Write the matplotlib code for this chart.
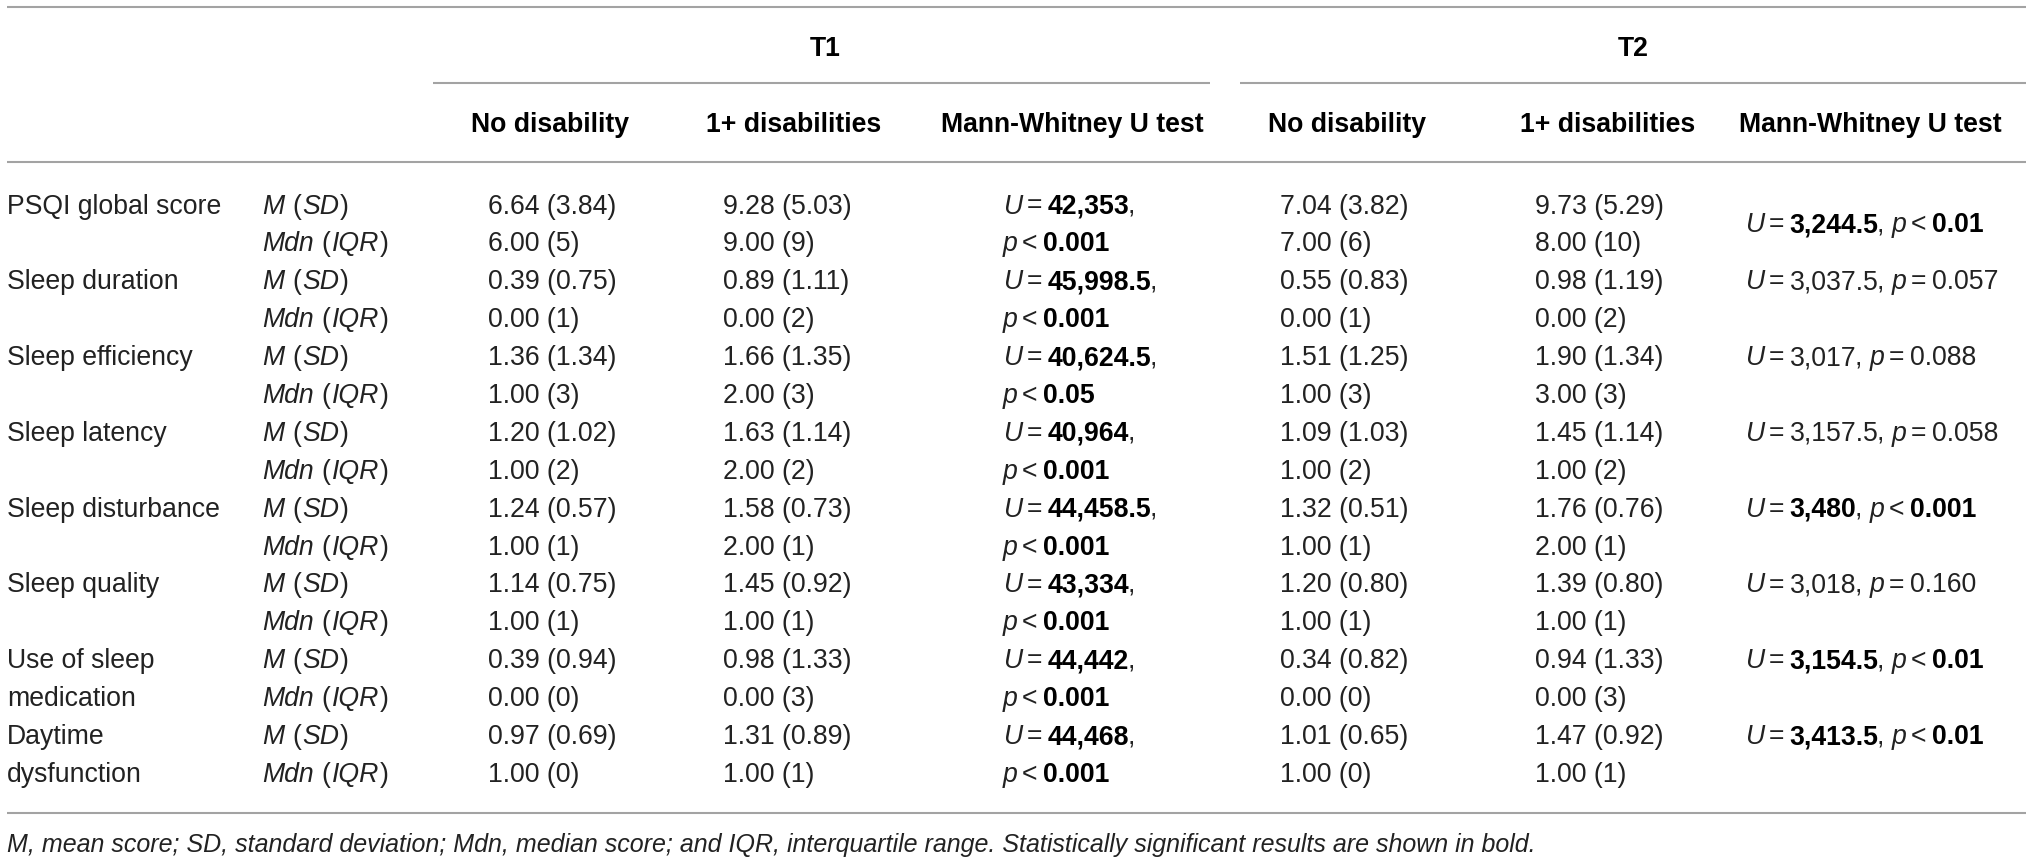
import matplotlib
matplotlib.use("Agg")
import matplotlib.pyplot as plt

# ---------------- data ----------------
variables = ["PSQI global score", "Sleep duration", "Sleep efficiency", "Sleep latency",
             "Sleep disturbance", "Sleep quality", "Use of sleep\nmedication", "Daytime\ndysfunction"]
stat_labels = [("M", "SD"), ("Mdn", "IQR")]

t1_nodis_m = ["6.64 (3.84)", "0.39 (0.75)", "1.36 (1.34)", "1.20 (1.02)", "1.24 (0.57)", "1.14 (0.75)", "0.39 (0.94)", "0.97 (0.69)"]
t1_nodis_mdn = ["6.00 (5)", "0.00 (1)", "1.00 (3)", "1.00 (2)", "1.00 (1)", "1.00 (1)", "0.00 (0)", "1.00 (0)"]
t1_dis_m = ["9.28 (5.03)", "0.89 (1.11)", "1.66 (1.35)", "1.63 (1.14)", "1.58 (0.73)", "1.45 (0.92)", "0.98 (1.33)", "1.31 (0.89)"]
t1_dis_mdn = ["9.00 (9)", "0.00 (2)", "2.00 (3)", "2.00 (2)", "2.00 (1)", "1.00 (1)", "0.00 (3)", "1.00 (1)"]
t1_u = ["42,353", "45,998.5", "40,624.5", "40,964", "44,458.5", "43,334", "44,442", "44,468"]
t1_p_op = ["<", "<", "<", "<", "<", "<", "<", "<"]
t1_p = ["0.001", "0.001", "0.05", "0.001", "0.001", "0.001", "0.001", "0.001"]
t1_sig = [True] * 8

t2_nodis_m = ["7.04 (3.82)", "0.55 (0.83)", "1.51 (1.25)", "1.09 (1.03)", "1.32 (0.51)", "1.20 (0.80)", "0.34 (0.82)", "1.01 (0.65)"]
t2_nodis_mdn = ["7.00 (6)", "0.00 (1)", "1.00 (3)", "1.00 (2)", "1.00 (1)", "1.00 (1)", "0.00 (0)", "1.00 (0)"]
t2_dis_m = ["9.73 (5.29)", "0.98 (1.19)", "1.90 (1.34)", "1.45 (1.14)", "1.76 (0.76)", "1.39 (0.80)", "0.94 (1.33)", "1.47 (0.92)"]
t2_dis_mdn = ["8.00 (10)", "0.00 (2)", "3.00 (3)", "1.00 (2)", "2.00 (1)", "1.00 (1)", "0.00 (3)", "1.00 (1)"]
t2_u = ["3,244.5", "3,037.5", "3,017", "3,157.5", "3,480", "3,018", "3,154.5", "3,413.5"]
t2_p_op = ["<", "=", "=", "=", "<", "=", "<", "<"]
t2_p = ["0.01", "0.057", "0.088", "0.058", "0.001", "0.160", "0.01", "0.01"]
t2_sig = [True, False, False, False, True, False, True, True]

groups = ["T1", "T2"]
col_headers = ["No disability", "1+ disabilities", "Mann-Whitney U test"]
footnote = [("M", "i"), (", mean score; ", "i"), ("SD", "i"), (", standard deviation; ", "i"),
            ("Mdn", "i"), (", median score; and ", "i"), ("IQR", "i"),
            (", interquartile range. Statistically significant results are shown in bold.", "i")]

# ---------------- layout ----------------
W, H, DPI = 2032, 864, 100
FS = 19.2
FS_NOTE = 18.0
TXT = "#222222"
LINE = "#a3a3a3"
LW = 1.5

plt.rcParams["font.family"] = ["Liberation Sans", "DejaVu Sans"]

fig = plt.figure(figsize=(W / DPI, H / DPI), dpi=DPI)
ax = fig.add_axes([0, 0, 1, 1])
ax.set_xlim(0, W)
ax.set_ylim(H, 0)
ax.axis("off")
renderer = fig.canvas.get_renderer()

CAP = 9.5           # half cap height in px
row0, pitch = 204, 37.9
def row_base(i):
    return row0 + pitch * i + CAP

def put(x, y, s, style="r", fs=FS, ha="left"):
    kw = dict(fontsize=fs, color=TXT, va="baseline", ha=ha)
    if style == "i":
        kw["fontstyle"] = "italic"
    elif style == "b":
        kw["fontweight"] = "bold"
        kw["color"] = "#000000"
    return ax.text(x, y, s, **kw)

def runs(x, y, parts, fs=FS):
    for s, style, gap in parts:
        t = put(x, y, s, style, fs)
        bb = t.get_window_extent(renderer)
        x += bb.width + gap
    return x

# rules
ax.plot([7, 2026], [7, 7], color=LINE, lw=LW, solid_capstyle="butt")
ax.plot([433, 1210], [83, 83], color=LINE, lw=LW, solid_capstyle="butt")
ax.plot([1240, 2026], [83, 83], color=LINE, lw=LW, solid_capstyle="butt")
ax.plot([7, 2026], [162, 162], color=LINE, lw=LW, solid_capstyle="butt")
ax.plot([7, 2026], [813, 813], color=LINE, lw=LW, solid_capstyle="butt")

# group headers
for g, cx in zip(groups, [825, 1633]):
    put(cx, 47 + CAP, g, "b", ha="center")
hdr_x = [550, 794, 1072, 1347, 1608, 1870]
for k, cx in enumerate(hdr_x):
    put(cx, 123 + CAP, col_headers[k % 3], "b", ha="center")

# body
X_LABEL, X_STAT = 7, 262
X_COLS = [488, 723, 1003, 1280, 1535, 1745]
for v, name in enumerate(variables):
    r_m, r_md = 2 * v, 2 * v + 1
    lines = name.split("\n")
    for j, ln in enumerate(lines):
        put(X_LABEL, row_base(r_m + j), ln)
    # stat labels
    for j, (a, b) in enumerate(stat_labels):
        runs(X_STAT, row_base(r_m + j), [(a, "i", 8), ("(", "r", 1), (b, "i", 1), (")", "r", 0)])
    put(X_COLS[0], row_base(r_m), t1_nodis_m[v])
    put(X_COLS[0], row_base(r_md), t1_nodis_mdn[v])
    put(X_COLS[1], row_base(r_m), t1_dis_m[v])
    put(X_COLS[1], row_base(r_md), t1_dis_mdn[v])
    put(X_COLS[3], row_base(r_m), t2_nodis_m[v])
    put(X_COLS[3], row_base(r_md), t2_nodis_mdn[v])
    put(X_COLS[4], row_base(r_m), t2_dis_m[v])
    put(X_COLS[4], row_base(r_md), t2_dis_mdn[v])
    # T1 Mann-Whitney: two lines
    st = "b" if t1_sig[v] else "r"
    runs(X_COLS[2], row_base(r_m), [("U", "i", 4), ("=", "r", 6), (t1_u[v], st, -2), (",", "r", 0)])
    runs(X_COLS[2], row_base(r_md), [("p", "i", 4), (t1_p_op[v], "r", 6), (t1_p[v], st, 0)])
    # T2 Mann-Whitney: one line
    st = "b" if t2_sig[v] else "r"
    y2 = row_base(r_m) if v > 0 else (row_base(r_m) + row_base(r_md)) / 2
    runs(X_COLS[5], y2, [("U", "i", 4), ("=", "r", 6), (t2_u[v], st, -2), (",", "r", 8),
                         ("p", "i", 4), (t2_p_op[v], "r", 6), (t2_p[v], st, 0)])

# footnote (all italic)
put(7, 852, "".join(s for s, _ in footnote), "i", fs=FS_NOTE)

fig.savefig("out.png", dpi=DPI)
